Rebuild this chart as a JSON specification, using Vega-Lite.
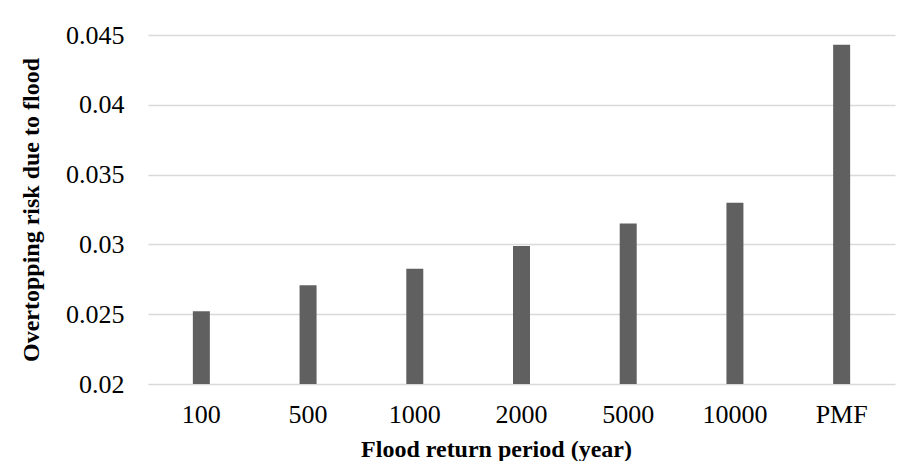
{
  "$schema": "https://vega.github.io/schema/vega-lite/v6.json",
  "width": 747,
  "height": 349,
  "autosize": {"type": "none"},
  "padding": {"left": 148, "top": 35, "right": 16, "bottom": 77},
  "background": "white",
  "config": {
    "view": {"stroke": null},
    "font": "Liberation Serif"
  },
  "data": {
    "values": [
      {"period": "100", "risk": 0.02521},
      {"period": "500", "risk": 0.02708},
      {"period": "1000", "risk": 0.02825},
      {"period": "2000", "risk": 0.02988},
      {"period": "5000", "risk": 0.0315},
      {"period": "10000", "risk": 0.03299},
      {"period": "PMF", "risk": 0.0443}
    ]
  },
  "mark": {"type": "bar", "color": "#606060", "size": 17, "clip": true},
  "encoding": {
    "x": {
      "field": "period",
      "type": "nominal",
      "sort": null,
      "scale": {"paddingInner": 0, "paddingOuter": 0},
      "axis": {
        "title": "Flood return period (year)",
        "titleFont": "Liberation Serif",
        "titleFontSize": 24,
        "titleFontWeight": "bold",
        "titleColor": "#000000",
        "titlePadding": 10,
        "titleX": 348,
        "titleAlign": "center",
        "labelAngle": 0,
        "labelFont": "Liberation Serif",
        "labelFontSize": 26,
        "labelColor": "#000000",
        "labelPadding": 17,
        "ticks": false,
        "domain": false,
        "grid": false
      }
    },
    "y": {
      "field": "risk",
      "type": "quantitative",
      "scale": {"domain": [0.02, 0.045], "zero": false, "nice": false},
      "axis": {
        "title": "Overtopping risk due to flood",
        "titleFont": "Liberation Serif",
        "titleFontSize": 24,
        "titleFontWeight": "bold",
        "titleColor": "#000000",
        "titlePadding": 22,
        "values": [0.02, 0.025, 0.03, 0.035, 0.04, 0.045],
        "format": ".3~f",
        "labelFont": "Liberation Serif",
        "labelFontSize": 26,
        "labelColor": "#000000",
        "labelPadding": 24,
        "ticks": false,
        "domain": false,
        "grid": true,
        "gridColor": "#d9d9d9",
        "gridWidth": 1.5
      }
    }
  }
}
